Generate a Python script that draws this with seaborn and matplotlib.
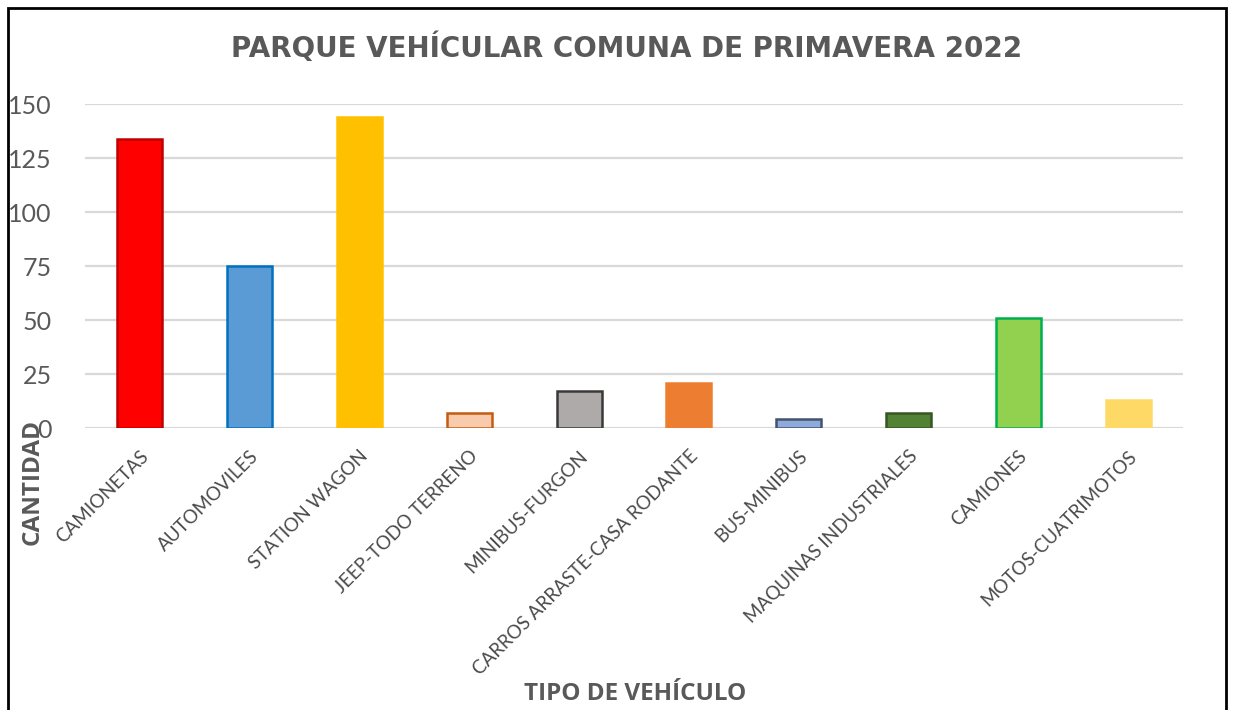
import pandas as pd
import matplotlib.pyplot as plt
import seaborn as sns
from matplotlib.patches import Rectangle

# data
tipos = ["CAMIONETAS", "AUTOMOVILES", "STATION WAGON", "JEEP-TODO TERRENO",
         "MINIBUS-FURGON", "CARROS ARRASTE-CASA RODANTE", "BUS-MINIBUS",
         "MAQUINAS INDUSTRIALES", "CAMIONES", "MOTOS-CUATRIMOTOS"]
cantidad = [134, 75, 144, 7, 17, 21, 4, 7, 51, 13]

fill_colors = ["#FF0000", "#5B9BD5", "#FFC000", "#F8CBAD", "#AEAAAA",
               "#ED7D31", "#8EA9DB", "#548235", "#92D050", "#FFD966"]
edge_colors = ["#C00000", "#0070C0", "#FFC000", "#C55A11", "#3B3838",
               "#ED7D31", "#44546A", "#375623", "#00B050", "#FFD966"]

df = pd.DataFrame({"tipo": tipos, "cantidad": cantidad})

sns.set_style("white")
plt.rcParams["font.family"] = ["Lato", "DejaVu Sans"]

grey = "#595959"
fig = plt.figure(figsize=(12.36, 7.10), dpi=100)
ax = fig.add_axes([85 / 1236, 1 - 428 / 710, (1183 - 85) / 1236, (428 - 104) / 710])

sns.barplot(data=df, x="tipo", y="cantidad", hue="tipo", palette=fill_colors,
            width=0.41, legend=False, ax=ax, zorder=3, saturation=1)
for bar, ec in zip(ax.patches, edge_colors):
    bar.set_edgecolor(ec)
    bar.set_linewidth(1.8)

ax.set_ylim(0, 150)
ax.set_xlim(-0.5, len(tipos) - 0.5)
ax.set_yticks(range(0, 151, 25))
ax.yaxis.grid(True, color="#D9D9D9", linewidth=1.6, zorder=0)
ax.set_axisbelow(True)
for s in ax.spines.values():
    s.set_visible(False)
ax.tick_params(axis="both", length=0)
ax.tick_params(axis="y", labelsize=18, labelcolor=grey, pad=24)
ax.set_xticks(range(len(tipos)))
ax.set_xticklabels(tipos, rotation=45, ha="right", rotation_mode="anchor",
                   fontsize=13.5, color="#4a4a4a")
ax.tick_params(axis="x", pad=14)
ax.set_xlabel("")
ax.set_ylabel("")

fig.text(627 / 1236, 1 - 48 / 710, "PARQUE VEHÍCULAR COMUNA DE PRIMAVERA 2022",
         ha="center", va="center", fontsize=20, fontweight="bold", color=grey,
         family=["DejaVu Sans"])
fig.text(33 / 1236, 1 - 482 / 710, "CANTIDAD", rotation=90, ha="center",
         va="center", fontsize=17.5, fontweight="bold", color=grey,
         family=["Open Sans", "DejaVu Sans"])
fig.text(635 / 1236, 1 - 694 / 710, "TIPO DE VEHÍCULO", ha="center",
         va="center", fontsize=17.5, fontweight="bold", color=grey,
         family=["Open Sans", "DejaVu Sans"])

fig.patches.append(Rectangle((8 / 1236, -0.1), (1226 - 8) / 1236, 1.1 - 8 / 710,
                             transform=fig.transFigure, fill=False,
                             edgecolor="black", linewidth=2))

fig.savefig("out.png", dpi=100)
